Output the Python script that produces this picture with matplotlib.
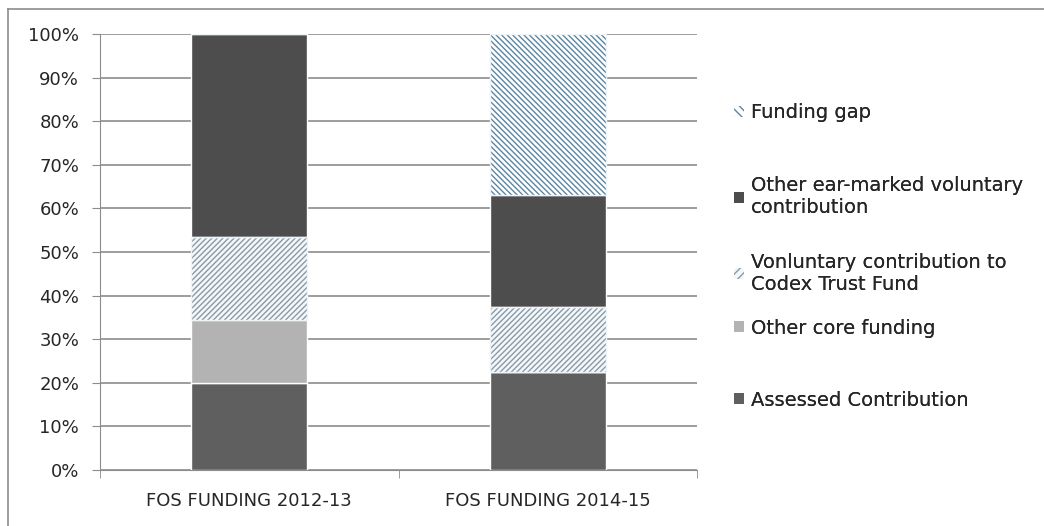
import matplotlib.pyplot as plt
from matplotlib.lines import Line2D
from matplotlib.patches import Patch
import numpy as np

# --- Data ---
categories = ['FOS FUNDING 2012-13', 'FOS FUNDING 2014-15']
assessed = [20.0, 22.5]
other_core = [14.5, 0.0]
codex_trust = [19.0, 15.0]
other_earmarked = [46.5, 25.5]
funding_gap = [0.0, 37.0]
y_ticks = [0, 10, 20, 30, 40, 50, 60, 70, 80, 90, 100]

plt.rcParams['font.family'] = ['DejaVu Sans']
plt.rcParams['hatch.linewidth'] = 1.0

fig = plt.figure(figsize=(10.44, 5.26), dpi=100)
ax = fig.add_axes([100 / 1044, 1 - 470 / 526, 597 / 1044, 436 / 526])

x = np.arange(len(categories))
width = 0.39
bottom = np.zeros(len(categories))

series = [
    ('Assessed Contribution', assessed, dict(color='#5f5f5f')),
    ('Other core funding', other_core, dict(color='#b3b3b3')),
    ('Vonluntary contribution to\nCodex Trust Fund', codex_trust,
     dict(facecolor='#f4f8fa', hatch='//////', hatchc='#8a9aa6')),
    ('Other ear-marked voluntary\ncontribution', other_earmarked, dict(color='#4d4d4d')),
    ('Funding gap', funding_gap,
     dict(facecolor='#ffffff', hatch='\\\\\\\\\\\\', hatchc='#5a86a3')),
]

handles = []
for label, vals, style in series:
    vals = np.array(vals)
    if 'hatch' in style:
        ax.bar(x, vals, width, bottom=bottom, facecolor=style['facecolor'],
               edgecolor=style['hatchc'], hatch=style['hatch'], linewidth=0, zorder=3)
        ax.bar(x, vals, width, bottom=bottom, fill=False,
               edgecolor='#eef3f6', linewidth=1, zorder=4)
        handles.append(Patch(facecolor=style['facecolor'], edgecolor=style['hatchc'],
                             hatch='////' if '/' in style['hatch'] else '\\\\\\\\',
                             linewidth=0, label=label))
    else:
        ax.bar(x, vals, width, bottom=bottom, color=style['color'],
               edgecolor='white', linewidth=1, zorder=3)
        handles.append(Patch(facecolor=style['color'], label=label))
    bottom += vals

ax.set_xlim(-0.5, 1.5)
ax.set_ylim(0, 100)
ax.set_yticks(y_ticks)
ax.set_yticklabels([f'{t}%' for t in y_ticks])
ax.set_xticks(x)
ax.set_xticklabels(categories)
ax.set_xticks([-0.5, 0.5, 1.5], minor=True)

ax.yaxis.grid(True, color='#8c8c8c', linewidth=1.2, zorder=0)
ax.set_axisbelow(True)
for side in ['top', 'right']:
    ax.spines[side].set_visible(False)
ax.spines['left'].set_color('#8c8c8c')
ax.spines['bottom'].set_color('#8c8c8c')
ax.tick_params(axis='y', which='major', length=6, color='#8c8c8c',
               labelsize=13, labelcolor='#262626', pad=9, direction='out')
ax.tick_params(axis='x', which='major', length=0, labelsize=13,
               labelcolor='#262626', pad=16)
ax.tick_params(axis='x', which='minor', length=6, color='#8c8c8c')

# legend entries placed one by one (Excel spaces them unevenly)
legend_y = [113, 197, 273, 328, 400]
for h, yc in zip(handles[::-1], legend_y):
    leg = fig.legend(handles=[h], loc='center left',
                     bbox_to_anchor=(724 / 1044, 1 - yc / 526),
                     frameon=False, fontsize=14, handlelength=0.55, handleheight=0.55,
                     handletextpad=0.35, labelcolor='#262626', borderpad=0)
    fig.add_artist(leg)

# partial outer frame (left and top edges visible)
fig.add_artist(Line2D([8 / 1044, 8 / 1044], [0, 1 - 9 / 526],
                      transform=fig.transFigure, color='#8c8c8c', linewidth=1.2))
fig.add_artist(Line2D([8 / 1044, 1], [1 - 9 / 526, 1 - 9 / 526],
                      transform=fig.transFigure, color='#8c8c8c', linewidth=1.2))

fig.savefig('out.png', dpi=100)
